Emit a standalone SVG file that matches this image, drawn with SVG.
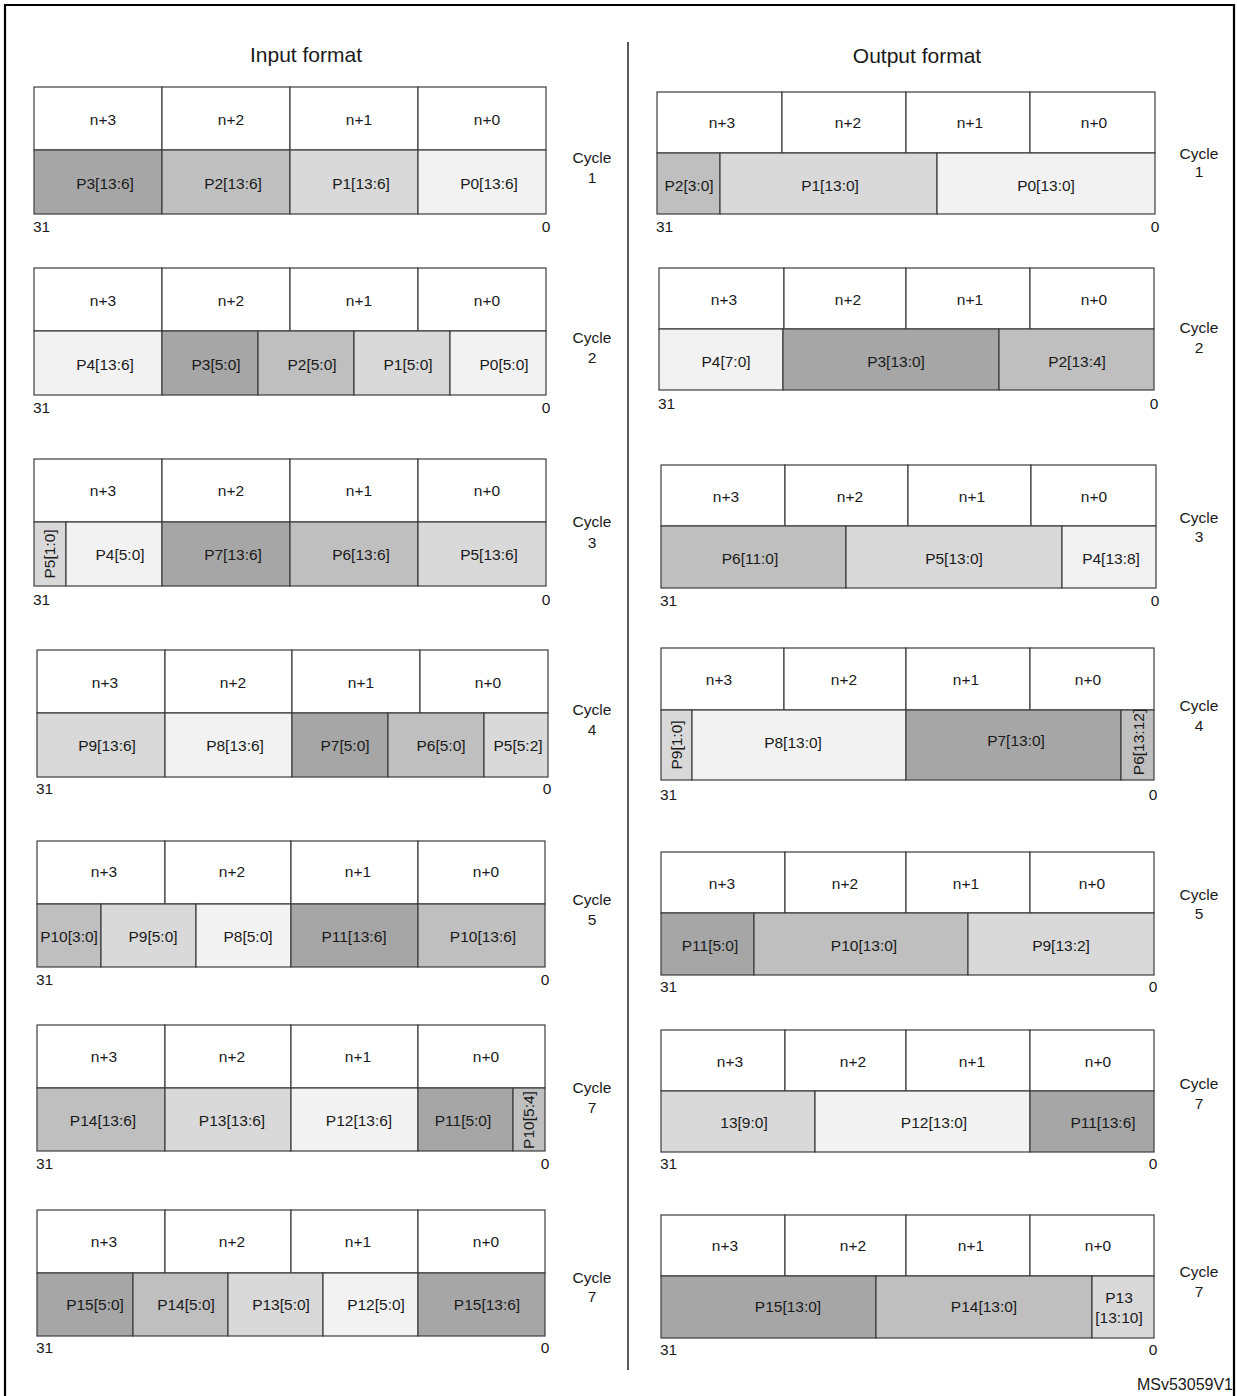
<svg xmlns="http://www.w3.org/2000/svg" width="1237" height="1396" viewBox="0 0 1237 1396">
<style>
  .b{stroke:#3c3c3c;stroke-width:1.2}
  .w{fill:#ffffff}
  .d{fill:#a6a6a6}
  .m{fill:#bfbfbf}
  .l{fill:#d9d9d9}
  .v{fill:#f2f2f2}
  text{font-family:"Liberation Sans",Arial,sans-serif;font-size:15.5px;fill:#1a1a1a;text-anchor:middle}
  .ttl{font-size:21px}
  .st{text-anchor:start}
</style>
<rect x="0" y="0" width="1237" height="1396" fill="#ffffff"/>
<path d="M5,1400 V5 H1234 V1400" fill="none" stroke="#000" stroke-width="2.2"/>
<g id="connectors">
  <line x1="628" y1="42" x2="628" y2="1370" stroke="#222" stroke-width="1.5"/>
</g>
<text class="ttl" x="306" y="62">Input  format</text>
<text class="ttl" x="917" y="63">Output format</text>

<!-- LEFT 1 -->
<g id="in-cycle1">
  <rect class="b w" x="34" y="87" width="128" height="63"/><rect class="b w" x="162" y="87" width="128" height="63"/><rect class="b w" x="290" y="87" width="128" height="63"/><rect class="b w" x="418" y="87" width="128" height="63"/>
  <rect class="b d" x="34" y="150" width="128" height="64"/><rect class="b m" x="162" y="150" width="128" height="64"/><rect class="b l" x="290" y="150" width="128" height="64"/><rect class="b v" x="418" y="150" width="128" height="64"/>
  <text x="103" y="125">n+3</text><text x="231" y="125">n+2</text><text x="359" y="125">n+1</text><text x="487" y="125">n+0</text>
  <text x="105" y="189">P3[13:6]</text><text x="233" y="189">P2[13:6]</text><text x="361" y="189">P1[13:6]</text><text x="489" y="189">P0[13:6]</text>
  <text class="st" x="33" y="232">31</text><text x="546" y="232">0</text>
  <text x="592" y="163">Cycle</text><text x="592" y="183">1</text>
</g>
<!-- LEFT 2 -->
<g id="in-cycle2">
  <rect class="b w" x="34" y="268" width="128" height="63"/><rect class="b w" x="162" y="268" width="128" height="63"/><rect class="b w" x="290" y="268" width="128" height="63"/><rect class="b w" x="418" y="268" width="128" height="63"/>
  <rect class="b v" x="34" y="331" width="128" height="64"/><rect class="b d" x="162" y="331" width="96" height="64"/><rect class="b m" x="258" y="331" width="96" height="64"/><rect class="b l" x="354" y="331" width="96" height="64"/><rect class="b v" x="450" y="331" width="96" height="64"/>
  <text x="103" y="306">n+3</text><text x="231" y="306">n+2</text><text x="359" y="306">n+1</text><text x="487" y="306">n+0</text>
  <text x="105" y="370">P4[13:6]</text><text x="216" y="370">P3[5:0]</text><text x="312" y="370">P2[5:0]</text><text x="408" y="370">P1[5:0]</text><text x="504" y="370">P0[5:0]</text>
  <text class="st" x="33" y="413">31</text><text x="546" y="413">0</text>
  <text x="592" y="343">Cycle</text><text x="592" y="363">2</text>
</g>
<!-- LEFT 3 -->
<g id="in-cycle3">
  <rect class="b w" x="34" y="459" width="128" height="63"/><rect class="b w" x="162" y="459" width="128" height="63"/><rect class="b w" x="290" y="459" width="128" height="63"/><rect class="b w" x="418" y="459" width="128" height="63"/>
  <rect class="b l" x="34" y="522" width="32" height="64"/><rect class="b v" x="66" y="522" width="96" height="64"/><rect class="b d" x="162" y="522" width="128" height="64"/><rect class="b m" x="290" y="522" width="128" height="64"/><rect class="b l" x="418" y="522" width="128" height="64"/>
  <text x="103" y="496">n+3</text><text x="231" y="496">n+2</text><text x="359" y="496">n+1</text><text x="487" y="496">n+0</text>
  <text transform="translate(55,554) rotate(-90)">P5[1:0]</text>
  <text x="120" y="560">P4[5:0]</text><text x="233" y="560">P7[13:6]</text><text x="361" y="560">P6[13:6]</text><text x="489" y="560">P5[13:6]</text>
  <text class="st" x="33" y="605">31</text><text x="546" y="605">0</text>
  <text x="592" y="527">Cycle</text><text x="592" y="548">3</text>
</g>
<!-- LEFT 4 -->
<g id="in-cycle4">
  <rect class="b w" x="37" y="650" width="128" height="63"/><rect class="b w" x="165" y="650" width="127" height="63"/><rect class="b w" x="292" y="650" width="128" height="63"/><rect class="b w" x="420" y="650" width="128" height="63"/>
  <rect class="b l" x="37" y="713" width="128" height="64"/><rect class="b v" x="165" y="713" width="127" height="64"/><rect class="b d" x="292" y="713" width="96" height="64"/><rect class="b m" x="388" y="713" width="96" height="64"/><rect class="b l" x="484" y="713" width="64" height="64"/>
  <text x="105" y="688">n+3</text><text x="233" y="688">n+2</text><text x="361" y="688">n+1</text><text x="488" y="688">n+0</text>
  <text x="107" y="751">P9[13:6]</text><text x="235" y="751">P8[13:6]</text><text x="345" y="751">P7[5:0]</text><text x="441" y="751">P6[5:0]</text><text x="518" y="751">P5[5:2]</text>
  <text class="st" x="36" y="794">31</text><text x="547" y="794">0</text>
  <text x="592" y="715">Cycle</text><text x="592" y="735">4</text>
</g>
<!-- LEFT 5 -->
<g id="in-cycle5">
  <rect class="b w" x="37" y="841" width="128" height="63"/><rect class="b w" x="165" y="841" width="126" height="63"/><rect class="b w" x="291" y="841" width="127" height="63"/><rect class="b w" x="418" y="841" width="127" height="63"/>
  <rect class="b m" x="37" y="904" width="64" height="63"/><rect class="b l" x="101" y="904" width="95" height="63"/><rect class="b v" x="196" y="904" width="95" height="63"/><rect class="b d" x="291" y="904" width="127" height="63"/><rect class="b m" x="418" y="904" width="127" height="63"/>
  <text x="104" y="877">n+3</text><text x="232" y="877">n+2</text><text x="358" y="877">n+1</text><text x="486" y="877">n+0</text>
  <text x="69" y="942">P10[3:0]</text><text x="153" y="942">P9[5:0]</text><text x="248" y="942">P8[5:0]</text><text x="354" y="942">P11[13:6]</text><text x="483" y="942">P10[13:6]</text>
  <text class="st" x="36" y="985">31</text><text x="545" y="985">0</text>
  <text x="592" y="905">Cycle</text><text x="592" y="925">5</text>
</g>
<!-- LEFT 7a -->
<g id="in-cycle7a">
  <rect class="b w" x="37" y="1025" width="128" height="63"/><rect class="b w" x="165" y="1025" width="126" height="63"/><rect class="b w" x="291" y="1025" width="127" height="63"/><rect class="b w" x="418" y="1025" width="127" height="63"/>
  <rect class="b m" x="37" y="1088" width="128" height="63"/><rect class="b l" x="165" y="1088" width="126" height="63"/><rect class="b v" x="291" y="1088" width="127" height="63"/><rect class="b d" x="418" y="1088" width="95" height="63"/><rect class="b m" x="513" y="1088" width="32" height="63"/>
  <text x="104" y="1062">n+3</text><text x="232" y="1062">n+2</text><text x="358" y="1062">n+1</text><text x="486" y="1062">n+0</text>
  <text x="103" y="1126">P14[13:6]</text><text x="232" y="1126">P13[13:6]</text><text x="359" y="1126">P12[13:6]</text><text x="463" y="1126">P11[5:0]</text>
  <text transform="translate(534,1120) rotate(-90)">P10[5:4]</text>
  <text class="st" x="36" y="1169">31</text><text x="545" y="1169">0</text>
  <text x="592" y="1093">Cycle</text><text x="592" y="1113">7</text>
</g>
<!-- LEFT 7b -->
<g id="in-cycle7b">
  <rect class="b w" x="37" y="1210" width="128" height="63"/><rect class="b w" x="165" y="1210" width="126" height="63"/><rect class="b w" x="291" y="1210" width="127" height="63"/><rect class="b w" x="418" y="1210" width="127" height="63"/>
  <rect class="b d" x="37" y="1273" width="96" height="63"/><rect class="b m" x="133" y="1273" width="95" height="63"/><rect class="b l" x="228" y="1273" width="95" height="63"/><rect class="b v" x="323" y="1273" width="95" height="63"/><rect class="b d" x="418" y="1273" width="127" height="63"/>
  <text x="104" y="1247">n+3</text><text x="232" y="1247">n+2</text><text x="358" y="1247">n+1</text><text x="486" y="1247">n+0</text>
  <text x="95" y="1310">P15[5:0]</text><text x="186" y="1310">P14[5:0]</text><text x="281" y="1310">P13[5:0]</text><text x="376" y="1310">P12[5:0]</text><text x="487" y="1310">P15[13:6]</text>
  <text class="st" x="36" y="1353">31</text><text x="545" y="1353">0</text>
  <text x="592" y="1283">Cycle</text><text x="592" y="1302">7</text>
</g>

<!-- RIGHT 1 -->
<g id="out-cycle1">
  <rect class="b w" x="657" y="92" width="125" height="61"/><rect class="b w" x="782" y="92" width="124" height="61"/><rect class="b w" x="906" y="92" width="124" height="61"/><rect class="b w" x="1030" y="92" width="125" height="61"/>
  <rect class="b m" x="657" y="153" width="63" height="61"/><rect class="b l" x="720" y="153" width="217" height="61"/><rect class="b v" x="937" y="153" width="218" height="61"/>
  <text x="722" y="128">n+3</text><text x="848" y="128">n+2</text><text x="970" y="128">n+1</text><text x="1094" y="128">n+0</text>
  <text x="689" y="191">P2[3:0]</text><text x="830" y="191">P1[13:0]</text><text x="1046" y="191">P0[13:0]</text>
  <text class="st" x="656" y="232">31</text><text x="1155" y="232">0</text>
  <text x="1199" y="159">Cycle</text><text x="1199" y="177">1</text>
</g>
<!-- RIGHT 2 -->
<g id="out-cycle2">
  <rect class="b w" x="659" y="268" width="125" height="61"/><rect class="b w" x="784" y="268" width="122" height="61"/><rect class="b w" x="906" y="268" width="124" height="61"/><rect class="b w" x="1030" y="268" width="124" height="61"/>
  <rect class="b v" x="659" y="329" width="124" height="61"/><rect class="b d" x="783" y="329" width="216" height="61"/><rect class="b m" x="999" y="329" width="155" height="61"/>
  <text x="724" y="305">n+3</text><text x="848" y="305">n+2</text><text x="970" y="305">n+1</text><text x="1094" y="305">n+0</text>
  <text x="726" y="367">P4[7:0]</text><text x="896" y="367">P3[13:0]</text><text x="1077" y="367">P2[13:4]</text>
  <text class="st" x="658" y="409">31</text><text x="1154" y="409">0</text>
  <text x="1199" y="333">Cycle</text><text x="1199" y="353">2</text>
</g>
<!-- RIGHT 3 -->
<g id="out-cycle3">
  <rect class="b w" x="661" y="465" width="124" height="61"/><rect class="b w" x="785" y="465" width="123" height="61"/><rect class="b w" x="908" y="465" width="123" height="61"/><rect class="b w" x="1031" y="465" width="125" height="61"/>
  <rect class="b m" x="661" y="526" width="185" height="62"/><rect class="b l" x="846" y="526" width="216" height="62"/><rect class="b v" x="1062" y="526" width="94" height="62"/>
  <text x="726" y="502">n+3</text><text x="850" y="502">n+2</text><text x="972" y="502">n+1</text><text x="1094" y="502">n+0</text>
  <text x="750" y="564">P6[11:0]</text><text x="954" y="564">P5[13:0]</text><text x="1111" y="564">P4[13:8]</text>
  <text class="st" x="660" y="606">31</text><text x="1155" y="606">0</text>
  <text x="1199" y="523">Cycle</text><text x="1199" y="542">3</text>
</g>
<!-- RIGHT 4 -->
<g id="out-cycle4">
  <rect class="b w" x="661" y="648" width="123" height="62"/><rect class="b w" x="784" y="648" width="122" height="62"/><rect class="b w" x="906" y="648" width="124" height="62"/><rect class="b w" x="1030" y="648" width="124" height="62"/>
  <rect class="b l" x="661" y="710" width="31" height="70"/><rect class="b v" x="692" y="710" width="214" height="70"/><rect class="b d" x="906" y="710" width="215" height="70"/><rect class="b m" x="1121" y="710" width="33" height="70"/>
  <text x="719" y="685">n+3</text><text x="844" y="685">n+2</text><text x="966" y="685">n+1</text><text x="1088" y="685">n+0</text>
  <text transform="translate(682,745) rotate(-90)">P9[1:0]</text>
  <text x="793" y="748">P8[13:0]</text><text x="1016" y="746">P7[13:0]</text>
  <text transform="translate(1144,742) rotate(-90)">P6[13:12]</text>
  <text class="st" x="660" y="800">31</text><text x="1153" y="800">0</text>
  <text x="1199" y="711">Cycle</text><text x="1199" y="731">4</text>
</g>
<!-- RIGHT 5 -->
<g id="out-cycle5">
  <rect class="b w" x="661" y="852" width="124" height="61"/><rect class="b w" x="785" y="852" width="121" height="61"/><rect class="b w" x="906" y="852" width="124" height="61"/><rect class="b w" x="1030" y="852" width="124" height="61"/>
  <rect class="b d" x="661" y="913" width="93" height="62"/><rect class="b m" x="754" y="913" width="214" height="62"/><rect class="b l" x="968" y="913" width="186" height="62"/>
  <text x="722" y="889">n+3</text><text x="845" y="889">n+2</text><text x="966" y="889">n+1</text><text x="1092" y="889">n+0</text>
  <text x="710" y="951">P11[5:0]</text><text x="864" y="951">P10[13:0]</text><text x="1061" y="951">P9[13:2]</text>
  <text class="st" x="660" y="992">31</text><text x="1153" y="992">0</text>
  <text x="1199" y="900">Cycle</text><text x="1199" y="919">5</text>
</g>
<!-- RIGHT 7a -->
<g id="out-cycle7a">
  <rect class="b w" x="661" y="1030" width="124" height="61"/><rect class="b w" x="785" y="1030" width="121" height="61"/><rect class="b w" x="906" y="1030" width="124" height="61"/><rect class="b w" x="1030" y="1030" width="124" height="61"/>
  <rect class="b l" x="661" y="1091" width="154" height="61"/><rect class="b v" x="815" y="1091" width="215" height="61"/><rect class="b d" x="1030" y="1091" width="124" height="61"/>
  <text x="730" y="1067">n+3</text><text x="853" y="1067">n+2</text><text x="972" y="1067">n+1</text><text x="1098" y="1067">n+0</text>
  <text x="744" y="1128">13[9:0]</text><text x="934" y="1128">P12[13:0]</text><text x="1103" y="1128">P11[13:6]</text>
  <text class="st" x="660" y="1169">31</text><text x="1153" y="1169">0</text>
  <text x="1199" y="1089">Cycle</text><text x="1199" y="1109">7</text>
</g>
<!-- RIGHT 7b -->
<g id="out-cycle7b">
  <rect class="b w" x="661" y="1215" width="124" height="61"/><rect class="b w" x="785" y="1215" width="121" height="61"/><rect class="b w" x="906" y="1215" width="124" height="61"/><rect class="b w" x="1030" y="1215" width="124" height="61"/>
  <rect class="b d" x="661" y="1276" width="215" height="62"/><rect class="b m" x="876" y="1276" width="216" height="62"/><rect class="b l" x="1092" y="1276" width="62" height="62"/>
  <text x="725" y="1251">n+3</text><text x="853" y="1251">n+2</text><text x="971" y="1251">n+1</text><text x="1098" y="1251">n+0</text>
  <text x="788" y="1312">P15[13:0]</text><text x="984" y="1312">P14[13:0]</text>
  <text x="1119" y="1303">P13</text><text x="1119" y="1323">[13:10]</text>
  <text class="st" x="660" y="1355">31</text><text x="1153" y="1355">0</text>
  <text x="1199" y="1277">Cycle</text><text x="1199" y="1297">7</text>
</g>
<text x="1233" y="1390" style="text-anchor:end;font-size:16px">MSv53059V1</text>
</svg>
